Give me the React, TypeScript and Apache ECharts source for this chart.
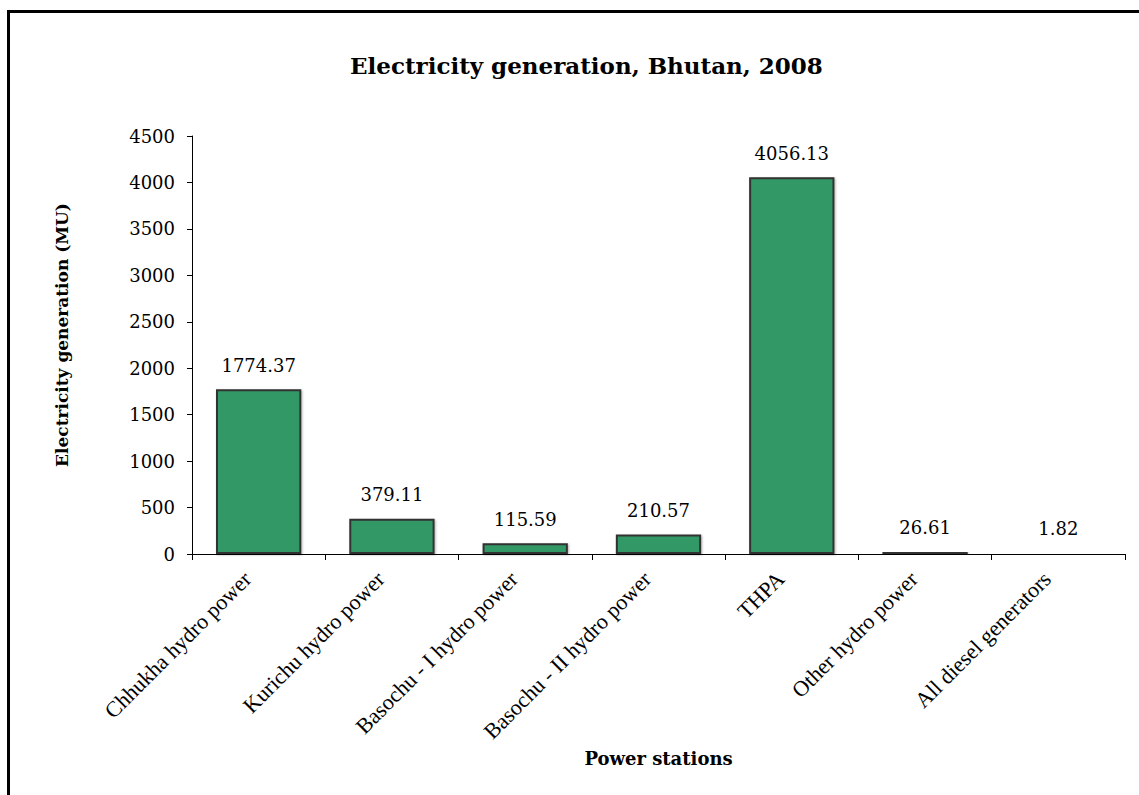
import React, { useEffect, useRef } from "react";
import * as echarts from "echarts";

const categories = [
  "Chhukha hydro power",
  "Kurichu hydro power",
  "Basochu - I hydro power",
  "Basochu - II hydro power",
  "THPA",
  "Other hydro power",
  "All diesel generators",
];
const values = [1774.37, 379.11, 115.59, 210.57, 4056.13, 26.61, 1.82];
const yTicks = [0, 500, 1000, 1500, 2000, 2500, 3000, 3500, 4000, 4500];

const SERIF = "'DejaVu Serif', serif";
const TIMES = "'Liberation Serif', serif";

export default function App() {
  const ref = useRef<HTMLDivElement>(null);
  useEffect(() => {
    const chart = echarts.init(ref.current!, null, { renderer: "svg" });
    chart.setOption({
      animation: false,
      backgroundColor: "#ffffff",
      title: {
        text: "Electricity generation, Bhutan, 2008",
        left: 345,
        top: 49,
        textStyle: { fontFamily: SERIF, fontSize: 23, fontWeight: "bold", color: "#000" },
      },
      graphic: [
        {
          type: "rect",
          shape: { x: 8.5, y: 11.5, width: 1200, height: 900 },
          style: { fill: "none", stroke: "#000", lineWidth: 3 },
          silent: true,
        },
      ],
      grid: { left: 192, right: 14, top: 136, bottom: 241 },
      xAxis: {
        type: "category",
        data: categories,
        name: "Power stations",
        nameLocation: "middle",
        nameGap: 192,
        nameTextStyle: { fontFamily: SERIF, fontSize: 18, fontWeight: "bold", color: "#000" },
        axisLine: { lineStyle: { color: "#000", width: 1 } },
        axisTick: { show: true, length: 6, lineStyle: { color: "#000" } },
        axisLabel: {
          rotate: 45,
          interval: 0,
          margin: 10,
          padding: [0, 16, 0, 0],
          fontFamily: TIMES,
          fontSize: 22,
          color: "#000",
        },
        splitLine: { show: false },
      },
      yAxis: {
        type: "value",
        min: 0,
        max: 4500,
        interval: 500,
        name: "Electricity generation (MU)",
        nameLocation: "middle",
        nameGap: 122,
        nameTextStyle: {
          fontFamily: SERIF,
          fontSize: 17,
          fontWeight: "bold",
          color: "#000",
          padding: [0, 0, 0, 20],
        },
        axisLine: { show: true, lineStyle: { color: "#000", width: 1 } },
        axisTick: { show: true, length: 5, lineStyle: { color: "#000" } },
        axisLabel: {
          fontFamily: SERIF,
          fontSize: 18,
          color: "#000",
          margin: 17,
          formatter: (v: number) => (yTicks.includes(v) ? String(v) : ""),
        },
        splitLine: { show: false },
      },
      series: [
        {
          type: "bar",
          data: values,
          barCategoryGap: "36%",
          itemStyle: {
            color: "#339966",
            borderColor: "#333333",
            borderWidth: 2,
            shadowColor: "rgba(0,0,0,0.3)",
            shadowBlur: 2,
            shadowOffsetX: 1,
            shadowOffsetY: 1,
          },
          label: {
            show: true,
            position: "top",
            distance: 15,
            fontFamily: SERIF,
            fontSize: 18,
            color: "#000",
            formatter: (p: any) => p.value.toFixed(2),
          },
        },
      ],
    });
    return () => chart.dispose();
  }, []);
  return <div ref={ref} style={{ width: 1139, height: 795, position: "absolute", left: 0, top: 0 }} />;
}
